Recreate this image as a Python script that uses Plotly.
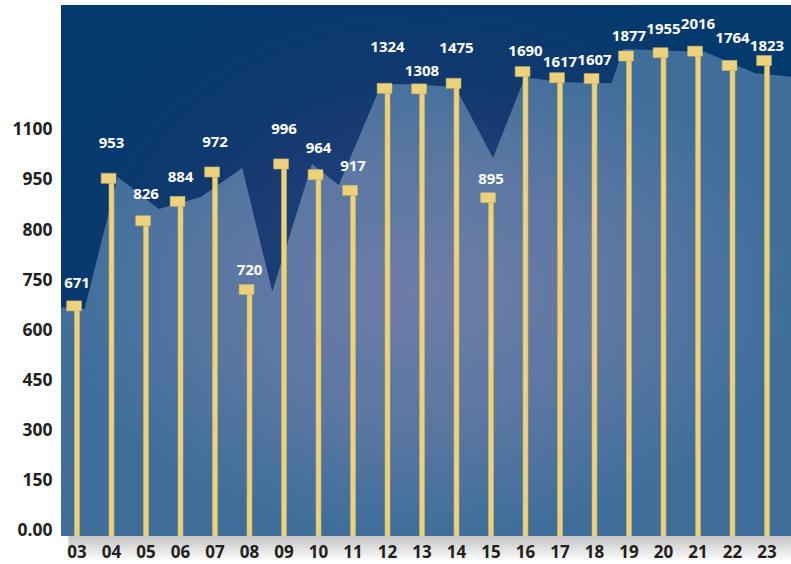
import numpy as np
import plotly.graph_objects as go

# ---------------- data ----------------
years = ["03", "04", "05", "06", "07", "08", "09", "10", "11", "12", "13",
         "14", "15", "16", "17", "18", "19", "20", "21", "22", "23"]
values = [671, 953, 826, 884, 972, 720, 996, 964, 917, 1324, 1308, 1475,
          895, 1690, 1617, 1607, 1877, 1955, 2016, 1764, 1823]

# y-axis tick labels as printed (equally spaced in the source)
tick_values = [0, 150, 300, 450, 600, 750, 800, 950, 1100]
tick_labels = ["0.00", "150", "300", "450", "600", "750", "800", "950", "1100"]
# compressed continuation of the scale above the last tick, as drawn
upper_values = [1300, 1600, 1900, 2100]
upper_steps = [8.8, 9.0, 9.5, 9.6]

# decorative light band behind the bars (position in category units, value)
band_pos = [-0.6, 0.22, 1.18, 2.37, 3.59, 4.79, 5.66, 6.81, 7.59, 8.82, 9.86,
            10.97, 12.06, 12.98, 14.09, 15.49, 15.84, 18.21, 19.66, 20.8]
band_values = [668, 662, 957, 861, 897, 984, 713, 996, 933, 1450, 1450,
               1360, 1014, 1624, 1510, 1480, 2100, 1980, 1672, 1624]

# label lift above each cap (pixels), as placed in the source
label_lift_px = [22, 34, 25, 23, 29, 18, 34, 25, 23, 40, 17, 34, 17, 19, 14,
                 17, 19, 22, 26, 26, 13]

# ---------------- scale ----------------
scale_v = np.array(tick_values + upper_values, dtype=float)
scale_i = np.array(list(range(len(tick_values))) + upper_steps, dtype=float)


def to_axis(v):
    return np.interp(np.asarray(v, dtype=float), scale_v, scale_i)


W, H = 791, 564
ML, MR, MT, MB = 61, 0, 5, 28
Y0, Y1 = -0.12, 10.48
X0, X1 = -0.464, 20.696
px_per_unit_y = (H - MT - MB) / (Y1 - Y0)

x = np.arange(len(years))
yi = to_axis(values)

FONT = "Open Sans"
YELLOW = "#ecd27c"
EDGE = "#c9b168"

fig = go.Figure()

# background panel (radial gradient) on base axes
fig.add_trace(go.Scatter(
    x=[X0 - 1, X1 + 1, X1 + 1, X0 - 1], y=[Y0 - 1, Y0 - 1, Y1 + 1, Y1 + 1],
    mode="lines", line=dict(width=0), fill="toself",
    fillgradient=dict(type="radial",
                      colorscale=[[0, "#2a4580"], [0.6, "#12396f"], [1, "#033a6e"]]),
    hoverinfo="skip", showlegend=False))

# light area on base axes
band_y = to_axis(band_values)
ax = [band_pos[0]] + band_pos + [band_pos[-1]]
ay = [Y0] + list(band_y) + [Y0]
fig.add_trace(go.Scatter(
    x=ax, y=ay, mode="lines", line=dict(width=0), fill="toself",
    fillgradient=dict(type="radial",
                      colorscale=[[0, "#6e7da8"], [0.55, "#5a77a2"], [1, "#3f6e9b"]]),
    hoverinfo="skip", showlegend=False))

# sticks (overlay axes so they sit above the fills)
fig.add_trace(go.Bar(
    x=x, y=yi - Y0, base=Y0, width=0.145, xaxis="x2", yaxis="y2",
    marker=dict(color=YELLOW, line=dict(color=EDGE, width=0.6)),
    hoverinfo="skip", showlegend=False))

# caps
cap_h = 0.2
fig.add_trace(go.Bar(
    x=x, y=[cap_h] * len(x), base=yi - cap_h / 2, width=0.43, offset=-0.3,
    xaxis="x2", yaxis="y2",
    marker=dict(color=YELLOW, line=dict(color=EDGE, width=0.6)),
    hoverinfo="skip", showlegend=False))

# value labels
lift = np.array(label_lift_px, dtype=float) / px_per_unit_y
fig.add_trace(go.Scatter(
    x=x, y=yi + lift, mode="text", text=[str(v) for v in values],
    textposition="middle center", xaxis="x2", yaxis="y2", cliponaxis=False,
    textfont=dict(family=FONT, size=15, color="white", weight="bold"),
    hoverinfo="skip", showlegend=False))

# shadow under the panel
shapes = []
plot_h = H - MT - MB
for k in range(8):
    p0 = (H - MB) + 3 * k
    t = k / 8
    g = int(200 + (255 - 200) * t)
    shapes.append(dict(type="rect", xref="paper", yref="paper",
                       x0=0.01, x1=1.0,
                       y0=((H - MB) - p0) / plot_h, y1=((H - MB) - p0 - 3) / plot_h,
                       fillcolor=f"rgb({g},{g},{g})", line=dict(width=0),
                       layer="below"))

fig.update_layout(
    width=W, height=H,
    margin=dict(l=ML, r=MR, t=MT, b=MB, autoexpand=False),
    paper_bgcolor="white", plot_bgcolor="#0a3a6e",
    barmode="overlay", bargap=0, showlegend=False,
    shapes=shapes,
    xaxis=dict(range=[X0, X1], tickvals=list(x), ticktext=years,
               showgrid=False, zeroline=False, showline=False, automargin=False,
               ticks="outside", ticklen=1, tickcolor="rgba(0,0,0,0)",
               tickfont=dict(family=FONT, size=17, color="#231f20", weight="bold")),
    yaxis=dict(range=[Y0, Y1], tickvals=list(range(len(tick_values))),
               ticktext=tick_labels,
               showgrid=False, zeroline=False, showline=False, automargin=False,
               ticks="outside", ticklen=4, tickcolor="rgba(0,0,0,0)",
               tickfont=dict(family=FONT, size=17.5, color="#231f20", weight="bold")),
    xaxis2=dict(range=[X0, X1], overlaying="x", visible=False, automargin=False),
    yaxis2=dict(range=[Y0, Y1], overlaying="y", visible=False, automargin=False),
)

fig.write_html("out.html",
               config={"displayModeBar": False, "staticPlot": True},
               post_script="document.body.style.margin='0';"
                           "document.body.style.overflow='hidden';")
